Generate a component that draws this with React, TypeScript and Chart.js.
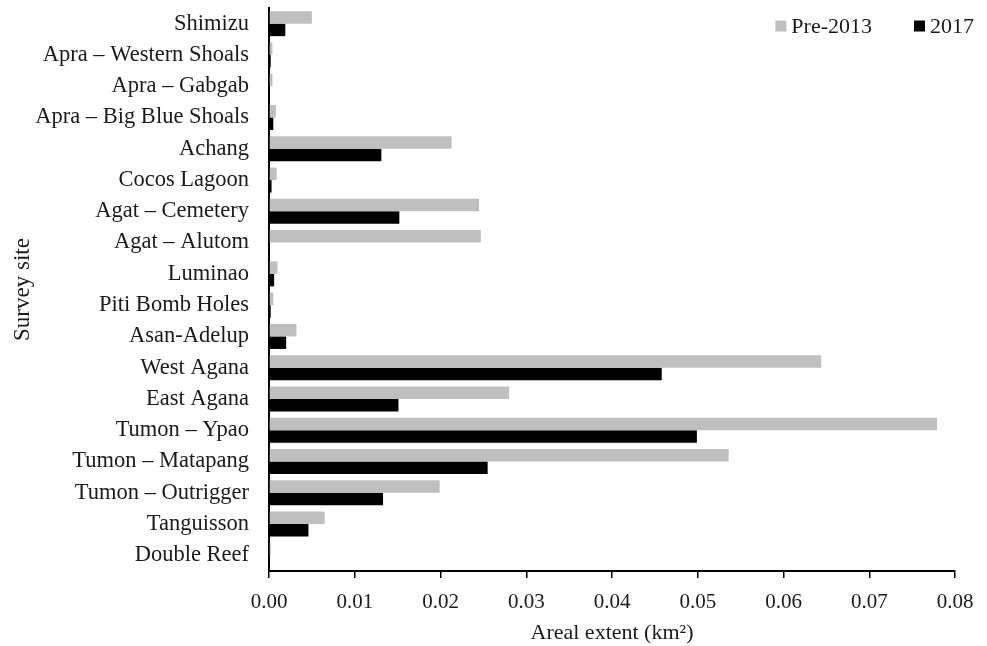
import React, { useEffect, useRef } from "react";
import { Chart, registerables } from "chart.js";

Chart.register(...registerables);

const sites = [
  "Shimizu",
  "Apra – Western Shoals",
  "Apra – Gabgab",
  "Apra – Big Blue Shoals",
  "Achang",
  "Cocos Lagoon",
  "Agat – Cemetery",
  "Agat – Alutom",
  "Luminao",
  "Piti Bomb Holes",
  "Asan-Adelup",
  "West Agana",
  "East Agana",
  "Tumon – Ypao",
  "Tumon – Matapang",
  "Tumon – Outrigger",
  "Tanguisson",
  "Double Reef",
];

const pre2013 = [
  0.0050, 0.0004, 0.0004, 0.0008, 0.0213, 0.0009, 0.0245, 0.0247, 0.0010,
  0.0005, 0.0032, 0.0644, 0.0280, 0.0779, 0.0536, 0.0199, 0.0065, 0.0002,
];

const y2017 = [
  0.0019, 0.0002, 0.0, 0.0005, 0.0131, 0.0003, 0.0152, 0.0, 0.0006,
  0.0002, 0.0020, 0.0458, 0.0151, 0.0499, 0.0255, 0.0133, 0.0046, 0.0001,
];

const seriesNames = ["Pre-2013", "2017"];
const seriesColors = ["#bfbfbf", "#000000"];

const xTicks = [0, 0.01, 0.02, 0.03, 0.04, 0.05, 0.06, 0.07, 0.08];

const FONT = "'Liberation Serif', 'Times New Roman', serif";
const TEXT = "#1a1a1a";

const legendPlugin = {
  id: "customLegend",
  afterDraw(chart: any) {
    const ctx = chart.ctx;
    ctx.save();
    ctx.font = `22px ${FONT}`;
    ctx.textBaseline = "middle";
    ctx.textAlign = "left";
    const y = 26;
    const box = 11;
    const items = chart.data.datasets.map((d: any) => ({ label: d.label, color: d.backgroundColor }));
    const gapBoxText = 5;
    const gapItems = 42;
    const rightEdge = 974;
    const widths = items.map((it: any) => box + gapBoxText + ctx.measureText(it.label).width);
    const total = widths.reduce((a: number, b: number) => a + b, 0) + gapItems * (items.length - 1);
    let x = rightEdge - total;
    items.forEach((it: any, i: number) => {
      ctx.fillStyle = it.color;
      ctx.fillRect(x, y - box / 2, box, box);
      ctx.fillStyle = TEXT;
      ctx.fillText(it.label, x + box + gapBoxText, y + 1);
      x += widths[i] + gapItems;
    });
    ctx.restore();
  },
};

export default function App() {
  const ref = useRef<HTMLCanvasElement | null>(null);

  useEffect(() => {
    if (!ref.current) return;
    const chart = new Chart(ref.current, {
      type: "bar",
      data: {
        labels: sites,
        datasets: [
          { label: seriesNames[0], data: pre2013, backgroundColor: seriesColors[0] },
          { label: seriesNames[1], data: y2017, backgroundColor: seriesColors[1] },
        ],
      },
      options: {
        indexAxis: "y",
        animation: false,
        responsive: false,
        maintainAspectRatio: false,
        datasets: { bar: { categoryPercentage: 0.8, barPercentage: 1.0 } },
        layout: { padding: { top: 8, right: 32, left: 0, bottom: 0 } },
        plugins: {
          legend: { display: false },
          tooltip: { enabled: false },
        },
        scales: {
          x: {
            type: "linear",
            min: 0,
            max: 0.08,
            afterBuildTicks: (scale: any) => {
              scale.ticks = xTicks.map((v) => ({ value: v }));
            },
            afterFit: (scale: any) => {
              scale.height = 75;
            },
            ticks: {
              font: { family: FONT, size: 21 },
              color: TEXT,
              padding: 12,
              maxRotation: 0,
              callback: (v: any) => Number(v).toFixed(2),
            },
            grid: {
              drawOnChartArea: false,
              drawTicks: true,
              tickLength: 7,
              color: "#000",
              lineWidth: 1.5,
            },
            border: { display: true, color: "#000", width: 2 },
            title: {
              display: true,
              text: "Areal extent (km²)",
              font: { family: FONT, size: 22 },
              color: TEXT,
              padding: { top: 0, bottom: 0 },
            },
          },
          y: {
            afterFit: (scale: any) => {
              scale.width = 269;
              scale.paddingTop = 0;
              scale.paddingBottom = 0;
            },
            ticks: {
              font: { family: FONT, size: 22.5 },
              color: TEXT,
              padding: 20,
              autoSkip: false,
            },
            grid: { display: false, drawTicks: false },
            border: { display: true, color: "#000", width: 2 },
            title: {
              display: true,
              text: "Survey site",
              font: { family: FONT, size: 23 },
              color: TEXT,
              padding: { top: 9, bottom: 0 },
            },
          },
        },
      },
      plugins: [legendPlugin],
    } as any);
    return () => chart.destroy();
  }, []);

  return (
    <div style={{ position: "fixed", left: 0, top: 0, width: 987, height: 646, background: "#fff" }}>
      <canvas ref={ref} width={987} height={646} style={{ width: 987, height: 646, display: "block" }} />
    </div>
  );
}
